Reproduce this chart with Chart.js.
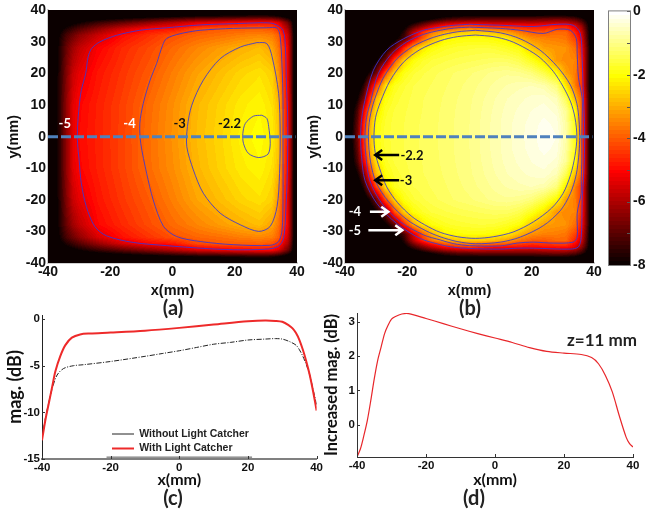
<!DOCTYPE html>
<html>
<head>
<meta charset="utf-8">
<title>Light catcher field maps</title>
<script src="https://cdn.jsdelivr.net/npm/chart.js@4"></script>
<style>
  body { margin: 0; background: #fff; width: 651px; height: 513px; overflow: hidden; position: relative; }
  canvas { position: absolute; }
  .cap { position: absolute; font-family: Lato, sans-serif; font-weight: 700; color: #222; transform: translate(-50%, -50%); white-space: nowrap; }
</style>
</head>
<body>
<canvas id="mapA" width="325" height="300" style="left:0;top:0"></canvas>
<canvas id="mapB" width="310" height="300" style="left:300px;top:0"></canvas>
<canvas id="bar" width="51" height="280" style="left:600px;top:0"></canvas>
<canvas id="lineC" width="325" height="190" style="left:0;top:300px"></canvas>
<canvas id="lineD" width="331" height="190" style="left:320px;top:300px"></canvas>
<div class="cap" style="left:173px;top:307px;font-size:20px">(a)</div>
<div class="cap" style="left:470px;top:307px;font-size:20px">(b)</div>
<div class="cap" style="left:173px;top:497px;font-size:20px">(c)</div>
<div class="cap" style="left:474px;top:497px;font-size:20px">(d)</div>
<div class="cap" style="left:602px;top:339px;font-size:17px">z=11 mm</div>
<script>
// map ticks
const mapXTicks = [-40, -20, 0, 20, 40];
const mapYTicks = [40, 30, 20, 10, 0, -10, -20, -30, -40];
const barTicks = [0, -1, -2, -3, -4, -5, -6, -7, -8];

// magnitude of panel (a), dB. rows follow ysA, columns xsA
const xsA = [-40, -38, -36, -34, -32, -30, -24, -16, -8, 0, 8, 16, 22, 28, 32, 34, 36, 37, 38, 39, 40];
const ysA = [40, 38, 36, 34, 32, 28, 20, 10, 0, -10, -20, -28, -32, -34, -36, -38, -40];
const magA = [
  [-9,-9,-9,-9,-9,-9,-9,-9,-9,-9,-9,-9,-9,-9,-9,-9,-9,-9,-9,-9,-9],
  [-9,-9,-9,-8.9,-8.8,-8.7,-8.6,-8.4,-8.2,-8,-7.8,-7.7,-7.6,-7.5,-7.6,-7.8,-8.1,-8.3,-8.5,-8.8,-9],
  [-9,-8.8,-8.5,-8.3,-8.1,-7.9,-7.4,-6.9,-6.4,-5.9,-5.4,-5.2,-5.05,-4.95,-5,-5.4,-6.3,-6.7,-7.3,-8.3,-9],
  [-9,-8.6,-8.1,-7.7,-7.4,-7.1,-6.4,-5.6,-5,-4.85,-4.2,-4,-3.98,-3.95,-4.1,-4.5,-5.6,-6,-6.9,-8.1,-9],
  [-9,-8.5,-7.8,-7.2,-6.8,-6.4,-5.7,-4.95,-4.55,-4.15,-3.9,-3.75,-3.6,-3.5,-3.6,-3.95,-5.1,-5.6,-6.6,-8,-9],
  [-9,-8.4,-7.6,-6.8,-6.2,-5.8,-5.1,-4.6,-4.25,-3.85,-3.5,-3.2,-3,-2.85,-3.15,-3.7,-4.6,-5.2,-6.5,-8,-9],
  [-9,-8.3,-7.5,-6.5,-5.7,-5.35,-4.85,-4.45,-4.05,-3.6,-3.15,-2.8,-2.55,-2.4,-2.6,-3.3,-4.6,-5.2,-6.5,-8,-9],
  [-9,-8.3,-7.4,-6.3,-5.4,-5.05,-4.72,-4.32,-3.85,-3.4,-2.9,-2.55,-2.3,-2.15,-2.4,-2.85,-4.4,-5,-6.3,-8,-9],
  [-9,-8.3,-7.4,-6.3,-5.4,-5,-4.7,-4.3,-3.8,-3.35,-2.85,-2.5,-2.2,-2.05,-2.25,-2.7,-4.3,-5,-6.3,-8,-9],
  [-9,-8.3,-7.4,-6.3,-5.4,-5.05,-4.72,-4.3,-3.82,-3.4,-2.92,-2.55,-2.3,-2.15,-2.4,-2.85,-4.4,-5,-6.3,-8,-9],
  [-9,-8.3,-7.5,-6.5,-5.7,-5.35,-4.85,-4.42,-4.03,-3.58,-3.12,-2.8,-2.55,-2.4,-2.6,-3.3,-4.6,-5.2,-6.5,-8,-9],
  [-9,-8.4,-7.6,-6.8,-6.2,-5.8,-5.03,-4.6,-4.2,-3.82,-3.5,-3.2,-3,-2.82,-3.15,-3.7,-4.6,-5.2,-6.5,-8,-9],
  [-9,-8.5,-7.8,-7.2,-6.8,-6.4,-5.5,-4.9,-4.5,-4.12,-3.88,-3.75,-3.6,-3.5,-3.6,-3.95,-5.1,-5.6,-6.6,-8,-9],
  [-9,-8.6,-8.1,-7.7,-7.4,-7.1,-6.3,-5.5,-5,-4.85,-4.2,-4,-3.98,-3.95,-4.1,-4.5,-5.6,-6,-6.9,-8.1,-9],
  [-9,-8.8,-8.5,-8.3,-8.1,-7.9,-7.4,-6.9,-6.4,-5.9,-5.4,-5.2,-5.05,-4.95,-5,-5.4,-6.3,-6.7,-7.3,-8.3,-9],
  [-9,-9,-9,-8.9,-8.8,-8.7,-8.6,-8.4,-8.2,-8,-7.8,-7.7,-7.6,-7.5,-7.6,-7.8,-8.1,-8.3,-8.5,-8.8,-9],
  [-9,-9,-9,-9,-9,-9,-9,-9,-9,-9,-9,-9,-9,-9,-9,-9,-9,-9,-9,-9,-9],
];

// magnitude of panel (b), dB
const xsB = [-40, -36, -34, -32, -30, -27, -24, -21, -18, -15, -12, -8, -4, 0, 4, 8, 12, 16, 20, 24, 28, 31, 34, 36, 38, 40];
const ysB = [40, 37, 35, 33, 31, 28, 24, 20, 16, 12, 8, 4, 0, -4, -8, -12, -16, -20, -24, -28, -31, -33, -35, -37, -40];
const magB = [
  [-9.5,-9.5,-9.5,-9.5,-9.5,-9.5,-9.5,-9.5,-9.5,-9.5,-9.5,-9.5,-9.5,-9.5,-9.5,-9.5,-9.5,-9.5,-9.5,-9.5,-9.5,-9.5,-9.5,-9.5,-9.5,-9.5],
  [-9.5,-9.5,-9.5,-9.5,-9.5,-9.5,-9.4,-9,-8.6,-8.2,-7.8,-7.3,-7,-6.9,-6.8,-6.8,-6.8,-6.8,-6.8,-6.7,-6.6,-6.7,-7,-7.5,-8.2,-9.5],
  [-9.5,-9.5,-9.5,-9.5,-9.5,-9.3,-8.9,-8.2,-7.3,-6.5,-5.7,-4.9,-4.5,-4.3,-4.6,-4.8,-4.85,-4.9,-5,-4.9,-4.8,-4.8,-5.4,-6.3,-7.7,-9.5],
  [-9.5,-9.5,-9.5,-9.5,-9.4,-9.2,-8.6,-7.6,-5.9,-4.6,-3.7,-3.1,-2.8,-2.65,-2.7,-2.85,-3.2,-3.7,-4,-4.05,-3.85,-3.85,-4.7,-5.6,-7.5,-9.5],
  [-9.5,-9.5,-9.5,-9.4,-9.2,-8.9,-8.2,-7.2,-5.4,-4,-3,-2.2,-2.05,-2,-2,-2.1,-2.25,-2.9,-3.4,-3.55,-3.6,-3.7,-4.3,-5.3,-7.4,-9.5],
  [-9.5,-9.5,-9.4,-9.2,-8.8,-8.1,-6.9,-4.7,-3.1,-2.35,-2,-1.8,-1.7,-1.65,-1.62,-1.65,-1.8,-2,-2.7,-3.2,-3.3,-3.35,-3.8,-4.9,-7.2,-9.5],
  [-9.5,-9.4,-9.2,-8.7,-8,-6.7,-4.1,-2.6,-2,-1.75,-1.6,-1.52,-1.45,-1.4,-1.35,-1.3,-1.3,-1.45,-1.85,-2.4,-3.3,-3.45,-3.5,-4.6,-7.2,-9.5],
  [-9.5,-9.2,-8.6,-7.7,-6.7,-4.1,-2.5,-1.9,-1.65,-1.52,-1.42,-1.32,-1.22,-1.15,-1.05,-.95,-.9,-.95,-1.1,-1.5,-2.1,-3.2,-3.6,-4.5,-7.2,-9.5],
  [-9.5,-8.6,-7.6,-6,-4.3,-2.4,-1.85,-1.65,-1.5,-1.42,-1.36,-1.27,-1.17,-1.07,-.96,-.84,-.74,-.66,-.62,-.7,-1.1,-2.3,-3.6,-4.5,-7.2,-9.5],
  [-9.5,-7.9,-6.7,-4.5,-2.9,-2,-1.7,-1.56,-1.46,-1.38,-1.33,-1.23,-1.13,-1.03,-.9,-.76,-.63,-.54,-.46,-.42,-.62,-1.4,-2.9,-3.9,-7,-9.5],
  [-9.5,-7.2,-5.3,-3.5,-2.4,-1.8,-1.6,-1.52,-1.44,-1.37,-1.31,-1.21,-1.11,-1.01,-.87,-.72,-.58,-.47,-.37,-.3,-.42,-.9,-2.05,-3.9,-7,-9.5],
  [-9.5,-6.9,-4.7,-3,-2.05,-1.72,-1.56,-1.5,-1.42,-1.35,-1.3,-1.2,-1.1,-1,-.85,-.7,-.55,-.43,-.32,-.2,-.3,-.8,-1.95,-3.9,-7,-9.5],
  [-9.5,-6.7,-4.5,-2.9,-2,-1.7,-1.55,-1.5,-1.42,-1.35,-1.3,-1.2,-1.1,-1,-.85,-.7,-.55,-.42,-.3,-.15,-.25,-.75,-1.9,-3.9,-7,-9.5],
  [-9.5,-6.9,-4.7,-3,-2.05,-1.72,-1.56,-1.5,-1.42,-1.35,-1.3,-1.2,-1.1,-1,-.85,-.7,-.55,-.43,-.32,-.2,-.3,-.8,-1.95,-3.9,-7,-9.5],
  [-9.5,-7.2,-5.3,-3.5,-2.4,-1.8,-1.6,-1.52,-1.44,-1.37,-1.31,-1.21,-1.11,-1.01,-.87,-.72,-.58,-.47,-.37,-.3,-.42,-.9,-2.05,-3.9,-7,-9.5],
  [-9.5,-7.9,-6.7,-4.5,-2.9,-2,-1.7,-1.56,-1.46,-1.38,-1.33,-1.23,-1.13,-1.03,-.9,-.76,-.63,-.54,-.46,-.42,-.62,-1.4,-2.9,-3.9,-7,-9.5],
  [-9.5,-8.6,-7.6,-6,-4.3,-2.4,-1.85,-1.65,-1.5,-1.42,-1.36,-1.27,-1.17,-1.07,-.96,-.84,-.74,-.66,-.62,-.7,-1.1,-2.3,-3.6,-4.5,-7.2,-9.5],
  [-9.5,-9.2,-8.6,-7.7,-6.7,-4.1,-2.5,-1.9,-1.65,-1.52,-1.42,-1.32,-1.22,-1.15,-1.05,-.95,-.9,-.95,-1.1,-1.5,-2.1,-3.2,-3.6,-4.5,-7.2,-9.5],
  [-9.5,-9.4,-9.2,-8.7,-8,-6.7,-4.1,-2.6,-2,-1.75,-1.6,-1.52,-1.45,-1.4,-1.35,-1.3,-1.3,-1.45,-1.85,-2.4,-3.3,-3.45,-3.5,-4.6,-7.2,-9.5],
  [-9.5,-9.5,-9.4,-9.2,-8.8,-8.1,-6.9,-4.7,-3.1,-2.35,-2,-1.8,-1.7,-1.65,-1.62,-1.65,-1.8,-2,-2.7,-3.2,-3.3,-3.35,-3.8,-4.9,-7.2,-9.5],
  [-9.5,-9.5,-9.5,-9.4,-9.2,-8.9,-8.2,-7.2,-5.4,-4,-3,-2.2,-2.05,-2,-2,-2.1,-2.25,-2.9,-3.4,-3.55,-3.6,-3.7,-4.3,-5.3,-7.4,-9.5],
  [-9.5,-9.5,-9.5,-9.5,-9.4,-9.2,-8.6,-7.6,-5.9,-4.6,-3.7,-3.1,-2.8,-2.65,-2.7,-2.85,-3.2,-3.7,-4,-4.05,-3.85,-3.85,-4.7,-5.6,-7.5,-9.5],
  [-9.5,-9.5,-9.5,-9.5,-9.5,-9.3,-8.9,-8.2,-7.3,-6.5,-5.7,-4.9,-4.5,-4.3,-4.6,-4.8,-4.85,-4.9,-5,-4.9,-4.8,-4.8,-5.4,-6.3,-7.7,-9.5],
  [-9.5,-9.5,-9.5,-9.5,-9.5,-9.5,-9.4,-9,-8.6,-8.2,-7.8,-7.3,-7,-6.9,-6.8,-6.8,-6.8,-6.8,-6.8,-6.7,-6.6,-6.7,-7,-7.5,-8.2,-9.5],
  [-9.5,-9.5,-9.5,-9.5,-9.5,-9.5,-9.5,-9.5,-9.5,-9.5,-9.5,-9.5,-9.5,-9.5,-9.5,-9.5,-9.5,-9.5,-9.5,-9.5,-9.5,-9.5,-9.5,-9.5,-9.5,-9.5],
];

// contour lines, [x, y] in mm
const contoursA = [
  [[28.2,36.1],[19.6,35.8],[8.9,35.4],[-1.9,34.5],[-10.5,33.7],[-18,32.1],[-23.4,30],[-26,27.9],[-27.1,25.3],[-27.9,20],[-29.3,14.7],[-30,9.5],[-30.5,3.2],[-30.5,-2.1],[-30,-7.4],[-29.3,-14.7],[-27.7,-22.1],[-25,-28.4],[-21.2,-31.4],[-12.6,-33.5],[-1.9,-34.5],[8.9,-35.3],[19.6,-35.8],[30.3,-35.6],[34.1,-34.7],[35.7,-32.1],[36.3,-25.3],[36.8,-14.7],[37,-4.2],[37,6.3],[36.6,16.8],[36.3,27.4],[35.5,33.7],[32.5,35.8],[28.2,36.1]],
  [[30.3,34.5],[19.6,34.3],[8.9,33.7],[2.4,32.6],[-1.9,31.1],[-3.2,28.9],[-5.1,23.2],[-7.2,17.9],[-9.4,10.5],[-10.5,4.2],[-10.2,-2.1],[-8.3,-11.6],[-6.2,-20],[-2.9,-28.4],[1.3,-31.6],[8.9,-33.2],[19.6,-34.2],[31.4,-34.4],[34.1,-33.2],[35.2,-29.5],[35.5,-20],[35.5,-4.2],[35.5,11.6],[35.2,22.1],[34.6,31.6],[33.6,34.4],[30.3,34.5]],
  [[27.1,29.8],[21.8,28.4],[15.3,24.7],[9.9,17.9],[6.2,10],[4.8,3.2],[4.6,-3.2],[6.7,-10.5],[9.9,-17.9],[15.3,-24.2],[21.8,-27.9],[27.7,-30],[31.4,-28.4],[33.6,-22.1],[34.4,-11.6],[34.6,1],[34.1,13.7],[32,25.3],[30.3,29.5],[27.1,29.8]],
  [[28.7,6.8],[26,6.5],[23.4,4.2],[22.6,1],[22.8,-2.1],[24.4,-5.3],[27.7,-6.6],[30.7,-5.5],[31.4,-2.1],[30.9,3.2],[30.3,5.8],[28.7,6.8]],
];
const contoursB = [
  [[0,35.6],[9.9,35.3],[20.5,34.9],[28.2,35.6],[33.3,35.3],[35.6,32.7],[36.2,24.2],[36.6,12.5],[36.9,6],[37,0],[36.9,-7],[36.6,-13.8],[36.2,-20.1],[35.9,-31.8],[35,-34.9],[32.4,-35.6],[20.5,-35.3],[15.3,-35.3],[9.9,-35.6],[0,-35.4],[-5,-35],[-9.4,-34.2],[-15.9,-32.2],[-23.4,-27.5],[-29.8,-21.1],[-33.6,-13.8],[-34.7,-6],[-35,0],[-34.6,6],[-33.6,11.5],[-30.9,21],[-26.6,27.4],[-21.2,31],[-14.8,33.7],[-9.4,34.7],[-5,35.3],[0,35.6]],
  [[0,34.7],[9.9,34.3],[16.3,33.7],[23.7,32.7],[28.2,34],[32.4,33.7],[34.3,31.1],[34.6,26.4],[35,18.8],[36.2,12.2],[36.2,6],[36.1,0],[36.1,-7],[35.9,-13.8],[35.9,-17.9],[34.6,-24.2],[34.6,-31.8],[33.3,-33.4],[26.9,-33.7],[20.5,-33.4],[15.3,-33.7],[9.9,-34.6],[0,-34.5],[-5,-33.9],[-9.4,-32.7],[-14.8,-31.1],[-22.3,-26.9],[-28.2,-21.1],[-32,-14],[-33.3,-6],[-33.6,0],[-33.1,6],[-31.7,11.5],[-29.3,20],[-25,26.3],[-20.2,30],[-14.8,32.4],[-9.4,33.7],[-5,34.4],[0,34.7]],
  [[1.9,33.7],[9.9,32.9],[16.3,31],[22.7,27.4],[28.2,22.2],[32.4,16.4],[34.5,10.5],[35.2,5],[35.4,0],[35.2,-5],[34.3,-12],[32.4,-18],[29.2,-23.4],[23.7,-28.2],[16.3,-31.8],[9.9,-33.4],[1.9,-33.9],[-4,-33.2],[-9.4,-31.7],[-14,-29.8],[-20.2,-26.2],[-26,-20.6],[-30,-14.5],[-31.8,-8],[-32.5,0],[-32,6],[-30.6,11.5],[-27.7,18.6],[-23.4,24.6],[-18.5,28.4],[-13.7,30.7],[-9.4,32.1],[-4,33.2],[1.9,33.7]],
  [[1.9,32.2],[7.6,31.7],[12.9,30.4],[18.2,27.9],[22.7,25],[26.9,20.7],[30,16],[32.5,11],[33.9,6],[34.5,0],[33.9,-6],[32.5,-12],[30.1,-17.9],[26.4,-22.6],[20.5,-27],[14,-30.2],[7.6,-31.7],[1.9,-32.2],[-3.8,-31.7],[-9.4,-30.3],[-14.4,-27.9],[-18.5,-25.3],[-23.1,-20.9],[-26.6,-15.9],[-28.9,-10],[-30.3,-5],[-30.7,0],[-30.2,6],[-28.6,11],[-25.5,17.8],[-21.2,23.6],[-15.9,27.6],[-9.4,30.4],[-3.8,31.7],[1.9,32.2]],
];
const scanLine = [[-40, 0], [39.5, 0]];

// panel (c)
const xWithout = [-40,-39,-38,-37,-35.6,-33.7,-30.8,-28,-20,-10,-5,0,5,10,15,20,25,28,30,32,34,35,36,37,38,39,40];
const magWithout = [-12.8,-10.6,-8.9,-7.4,-6,-5.3,-5,-4.9,-4.55,-4,-3.7,-3.4,-3.05,-2.7,-2.5,-2.25,-2.15,-2.1,-2.15,-2.4,-2.8,-3.3,-4,-4.9,-6,-7.6,-9.2];
const xWith = [-40,-39,-38,-37,-36.1,-34.7,-33.2,-31.3,-28.9,-26,-20,-10,0,10,20,25,28,30,32,33,34,35,36,37,38,39,40];
const magWith = [-13,-10.8,-9,-7.2,-5.6,-4,-2.8,-2,-1.65,-1.55,-1.45,-1.25,-.95,-.6,-.25,-.15,-.2,-.3,-.7,-1,-1.5,-2.25,-3.3,-4.55,-6,-7.8,-9.8];
const legendEdge = [[-21.2, -14.8], [21.2, -14.8]];

// panel (d)
const xGain = [-40,-39,-38,-37,-36,-35,-34,-33,-32,-31,-30,-29,-27,-25,-20,-15,-10,-5,0,5,10,15,20,25,28,30,32,34,36,38,39,40];
const magGain = [-.94,-.7,-.31,.13,.71,1.34,1.88,2.27,2.66,2.9,3.08,3.15,3.23,3.24,3.1,2.95,2.8,2.66,2.53,2.4,2.25,2.14,2.09,2.05,1.96,1.78,1.44,.96,.27,-.36,-.55,-.65];

// labels and arrows on the maps, in mm
const notesA = [['-5', -34.6, 4, '#fff'], ['-4', -13.8, 4, '#fff'], ['-3', 2.3, 4, '#111'], ['-2.2', 18.3, 4, '#111']];
const notesB = [['-2.2', -18.5, -6.1, '#111'], ['-3', -20.4, -14, '#111'], ['-4', -36.8, -23.8, '#fff'], ['-5', -36.8, -29.8, '#fff']];
const arrowsB = [
  [-22.6, -5.8, -30.3, -5.8, '#000'],
  [-22.6, -13.8, -30.3, -13.8, '#000'],
  [-32, -23.8, -26.1, -23.8, '#fff'],
  [-32.5, -29.6, -21.6, -29.6, '#fff'],
];

const boldArial = (size) => ({ family: '"Liberation Sans", Arial, sans-serif', weight: 'bold', size });
const boldLato = (size) => ({ family: 'Lato, sans-serif', weight: 'bold', size });
const toPoints = (pairs) => pairs.map(([x, y]) => ({ x, y }));
const zipPoints = (xs, ys) => xs.map((x, i) => ({ x, y: ys[i] }));

// same colour table as matlab's hot(64) over -8..0
function hotColor(v) {
  const level = Math.max(0, Math.min(63, Math.floor(((v + 8) / 8) * 64)));
  const t = (level + 1) / 64;
  const part = (a) => Math.max(0, Math.min(1, a));
  return [part(t * 8 / 3) * 255, part((t - 3 / 8) * 8 / 3) * 255, part((t - 6 / 8) * 4) * 255];
}

function locate(grid, v) {
  const dir = Math.sign(grid[1] - grid[0]);
  let i = 0;
  while (i < grid.length - 2 && dir * (v - grid[i + 1]) > 0) i += 1;
  return [i, (v - grid[i]) / (grid[i + 1] - grid[i])];
}

// shades the chart area from a table of cells, going through the chart's scales
const heatPlugin = (xs, ys, rows) => ({
  id: 'heat',
  beforeDatasetsDraw(chart) {
    const { ctx, chartArea: area, scales } = chart;
    const w = Math.round(area.right - area.left);
    const h = Math.round(area.bottom - area.top);
    const img = ctx.createImageData(w, h);
    for (let py = 0; py < h; py += 1) {
      const [j, ty] = locate(ys, scales.y.getValueForPixel(area.top + py + 0.5));
      for (let px = 0; px < w; px += 1) {
        const [i, tx] = locate(xs, scales.x.getValueForPixel(area.left + px + 0.5));
        const top = rows[j][i] * (1 - tx) + rows[j][i + 1] * tx;
        const bottom = rows[j + 1][i] * (1 - tx) + rows[j + 1][i + 1] * tx;
        const [r, g, b] = hotColor(top * (1 - ty) + bottom * ty);
        const at = (py * w + px) * 4;
        img.data[at] = r;
        img.data[at + 1] = g;
        img.data[at + 2] = b;
        img.data[at + 3] = 255;
      }
    }
    ctx.putImageData(img, Math.round(area.left), Math.round(area.top));
  },
});

const notesPlugin = (notes, arrows) => ({
  id: 'notes',
  afterDatasetsDraw(chart) {
    const { ctx, scales } = chart;
    ctx.save();
    ctx.font = 'bold 13px Lato, sans-serif';
    ctx.textAlign = 'center';
    ctx.textBaseline = 'middle';
    notes.forEach(([text, x, y, color]) => {
      ctx.fillStyle = color;
      ctx.fillText(text, scales.x.getPixelForValue(x), scales.y.getPixelForValue(y));
    });
    arrows.forEach(([x0, y0, x1, y1, color]) => {
      const ax = scales.x.getPixelForValue(x0);
      const bx = scales.x.getPixelForValue(x1);
      const by = scales.y.getPixelForValue(y1);
      const dir = Math.sign(bx - ax);
      ctx.strokeStyle = color;
      ctx.lineWidth = 2.5;
      ctx.beginPath();
      ctx.moveTo(ax, scales.y.getPixelForValue(y0));
      ctx.lineTo(bx, by);
      ctx.moveTo(bx - dir * 7, by - 5);
      ctx.lineTo(bx, by);
      ctx.lineTo(bx - dir * 7, by + 5);
      ctx.stroke();
    });
    ctx.restore();
  },
});

// ticks pointing into the plot, matlab style
const innerTicks = (color, size) => ({
  id: 'innerTicks',
  afterDatasetsDraw(chart) {
    const { ctx, chartArea: area, scales } = chart;
    ctx.save();
    ctx.strokeStyle = color;
    ctx.lineWidth = 1;
    Object.values(scales).forEach((scale) => {
      if (!scale.options.display) return;
      scale.ticks.forEach((tick) => {
        const at = Math.round(scale.getPixelForValue(tick.value)) + 0.5;
        ctx.beginPath();
        if (scale.isHorizontal()) {
          ctx.moveTo(at, area.bottom);
          ctx.lineTo(at, area.bottom - size);
        } else if (scale.position === 'right') {
          ctx.moveTo(area.right, at);
          ctx.lineTo(area.right - size, at);
        } else {
          ctx.moveTo(area.left, at);
          ctx.lineTo(area.left + size, at);
        }
        ctx.stroke();
      });
    });
    ctx.restore();
  },
});

const barFrame = {
  id: 'barFrame',
  afterDatasetsDraw(chart) {
    const { ctx, chartArea: a } = chart;
    ctx.save();
    ctx.strokeStyle = '#808080';
    ctx.strokeRect(a.left - 0.5, a.top - 0.5, a.right - a.left + 1, a.bottom - a.top + 1);
    ctx.restore();
  },
};

const moveLegend = {
  id: 'moveLegend',
  afterLayout(chart) {
    const { legend } = chart;
    legend.left = 108;
    legend.right = 300;
    legend.top = 124.75;
    legend.bottom = 165;
  },
};

const setTicks = (values) => (scale) => {
  scale.ticks = values.map((value) => ({ value }));
};
const fixWidth = (w) => (scale) => { scale.width = w; };
const fixHeight = (h) => (scale) => { scale.height = h; };
const noGrid = { display: false, drawTicks: false };

function mapChart(id, contours, plugins, left, right) {
  const datasets = contours.map((line) => ({
    data: toPoints(line),
    showLine: true,
    pointRadius: 0,
    borderColor: 'rgba(55,55,215,0.85)',
    borderWidth: 1,
    tension: 0.3,
    order: 2,
  }));
  datasets.push({
    data: toPoints(scanLine),
    showLine: true,
    pointRadius: 0,
    borderColor: '#4f81bd',
    borderWidth: 3,
    borderDash: [10, 3],
    order: 1,
  });
  return new Chart(document.getElementById(id), {
    type: 'scatter',
    data: { datasets },
    plugins,
    options: {
      responsive: false,
      animation: false,
      layout: { padding: { top: 10, right } },
      plugins: { legend: { display: false }, tooltip: { enabled: false } },
      scales: {
        x: {
          min: -40,
          max: 40,
          afterBuildTicks: setTicks(mapXTicks),
          afterFit: fixHeight(37),
          grid: noGrid,
          border: { color: '#d0d0d0', width: 2 },
          ticks: { color: '#111', font: boldArial(14), padding: 1, maxRotation: 0 },
          title: { display: true, text: 'x(mm)', color: '#111', font: boldArial(14.5), padding: { top: 0, bottom: 0 } },
        },
        y: {
          min: -40,
          max: 40,
          afterBuildTicks: setTicks(mapYTicks),
          afterFit: fixWidth(left),
          grid: noGrid,
          border: { color: '#d0d0d0', width: 2 },
          ticks: { color: '#111', font: boldArial(14), padding: 2 },
          title: { display: true, text: 'y(mm)', color: '#111', font: boldArial(14.5), padding: { top: 5, bottom: 0 } },
        },
      },
    },
  });
}

mapChart('mapA', contoursA, [heatPlugin(xsA, ysA, magA), notesPlugin(notesA, [])], 48, 28);
mapChart('mapB', contoursB, [heatPlugin(xsB, ysB, magB), notesPlugin(notesB, arrowsB)], 45, 16);

new Chart(document.getElementById('bar'), {
  type: 'scatter',
  data: { datasets: [] },
  plugins: [heatPlugin([0, 1], [0, -8], [[0, 0], [-8, -8]]), innerTicks('#555', 3), barFrame],
  options: {
    responsive: false,
    animation: false,
    layout: { padding: { left: 9, top: 11, bottom: 15 } },
    plugins: { legend: { display: false }, tooltip: { enabled: false } },
    scales: {
      x: { display: false, min: 0, max: 1 },
      y: {
        position: 'right',
        min: -8,
        max: 0,
        afterBuildTicks: setTicks(barTicks),
        afterFit: fixWidth(21),
        grid: noGrid,
        border: { display: false },
        ticks: {
          color: '#111',
          font: boldArial(14),
          padding: 3,
          callback: (v) => (v % 2 === 0 ? String(v) : ''),
        },
      },
    },
  },
});

new Chart(document.getElementById('lineC'), {
  type: 'scatter',
  data: {
    datasets: [
      {
        label: 'Without Light Catcher',
        data: zipPoints(xWithout, magWithout),
        showLine: true,
        pointRadius: 0,
        borderColor: '#222',
        borderWidth: 1,
        borderDash: [5, 1.5, 1, 1.5],
        tension: 0.3,
        order: 2,
      },
      {
        label: 'With Light Catcher',
        data: zipPoints(xWith, magWith),
        showLine: true,
        pointRadius: 0,
        borderColor: '#ee2a2a',
        borderWidth: 2,
        tension: 0.3,
        order: 1,
      },
      {
        label: 'edge',
        data: toPoints(legendEdge),
        showLine: true,
        pointRadius: 0,
        borderColor: '#555',
        borderWidth: 1,
      },
    ],
  },
  plugins: [innerTicks('#333', 3), moveLegend],
  options: {
    responsive: false,
    animation: false,
    layout: { padding: { top: 15, right: 7 } },
    plugins: {
      tooltip: { enabled: false },
      legend: {
        position: 'chartArea',
        align: 'start',
        labels: {
          filter: (item) => item.datasetIndex < 2,
          sort: (a, b) => a.datasetIndex - b.datasetIndex,
          usePointStyle: true,
          pointStyle: 'line',
          pointStyleWidth: 22,
          padding: 4,
          color: '#222',
          font: boldArial(10.5),
        },
      },
    },
    scales: {
      x: {
        min: -40,
        max: 40,
        afterBuildTicks: setTicks([-40, -20, 0, 20, 40]),
        afterFit: fixHeight(31),
        grid: noGrid,
        border: { color: '#808080', width: 2 },
        ticks: { color: '#111', font: boldArial(11.5), padding: 2, maxRotation: 0 },
        title: { display: true, text: 'x(mm)', color: '#111', font: boldLato(16), padding: { top: 0, bottom: 1 } },
      },
      y: {
        min: -15,
        max: 0.43,
        afterBuildTicks: setTicks([0, -5, -10, -15]),
        afterFit: fixWidth(42),
        grid: noGrid,
        border: { color: '#222', width: 1 },
        ticks: { color: '#111', font: boldArial(11.5), padding: 2 },
        title: { display: true, text: 'mag. (dB)', color: '#111', font: boldLato(18), padding: { top: 4, bottom: 0 } },
      },
    },
  },
});

new Chart(document.getElementById('lineD'), {
  type: 'scatter',
  data: {
    datasets: [{
      data: zipPoints(xGain, magGain),
      showLine: true,
      pointRadius: 0,
      borderColor: '#e8262a',
      borderWidth: 1.2,
      tension: 0.3,
    }],
  },
  plugins: [innerTicks('#333', 3)],
  options: {
    responsive: false,
    animation: false,
    layout: { padding: { top: 13, right: 18 } },
    plugins: { legend: { display: false }, tooltip: { enabled: false } },
    scales: {
      x: {
        min: -40,
        max: 40,
        afterBuildTicks: setTicks([-40, -20, 0, 20, 40]),
        afterFit: fixHeight(33),
        grid: noGrid,
        border: { color: '#333', width: 1 },
        ticks: { color: '#111', font: boldArial(11.5), padding: 2, maxRotation: 0 },
        title: { display: true, text: 'x(mm)', color: '#111', font: boldLato(16), padding: { top: 0, bottom: 1 } },
      },
      y: {
        min: -0.94,
        max: 3.26,
        afterBuildTicks: setTicks([3, 2, 1, 0]),
        afterFit: fixWidth(37),
        grid: noGrid,
        border: { color: '#333', width: 1 },
        ticks: { color: '#111', font: boldArial(11.5), padding: 2 },
        title: { display: true, text: 'Increased mag. (dB)', color: '#111', font: boldLato(16.5), padding: { top: 2, bottom: 0 } },
      },
    },
  },
});
</script>
</body>
</html>
